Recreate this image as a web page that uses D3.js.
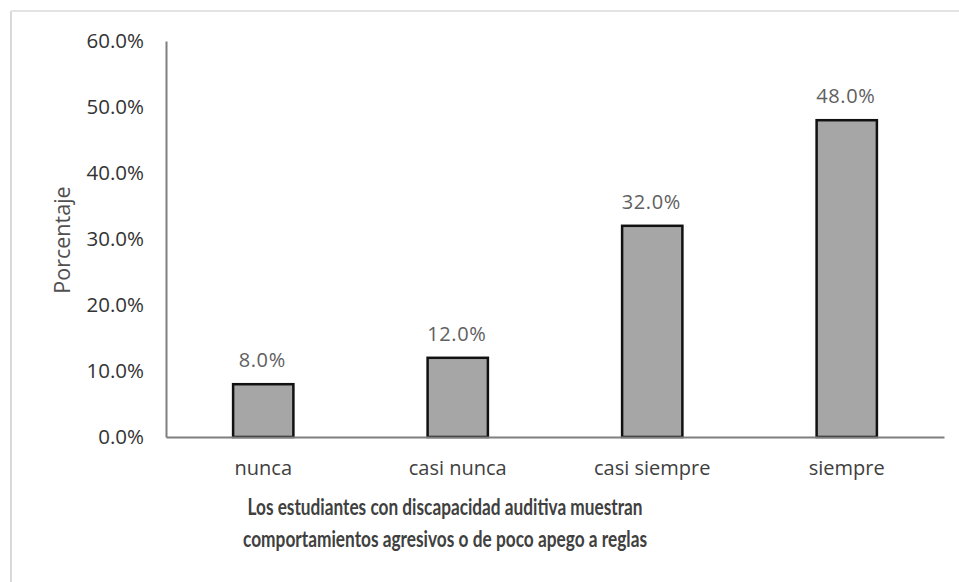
<!DOCTYPE html>
<html><head><meta charset="utf-8">
<script src="https://cdn.jsdelivr.net/npm/d3@7"></script>
<style>body{margin:0;background:#fff}svg{display:block}</style>
</head><body><svg id="c" width="959" height="582"></svg>
<script>
const categories = ["nunca", "casi nunca", "casi siempre", "siempre"];
const values = [8.0, 12.0, 32.0, 48.0];
const yTicks = [0, 10, 20, 30, 40, 50, 60];
const yLabel = "Porcentaje";
const xTitle = ["Los estudiantes con discapacidad auditiva muestran", "comportamientos agresivos o de poco apego a reglas"];

const svg = d3.select("#c");
const m = {left:166, right:944, top:41, bottom:437};
const font = "'Open Sans', sans-serif";

// frame
svg.append("line").attr("x1",11).attr("x2",11).attr("y1",11).attr("y2",582).attr("stroke","#d9d9d9").attr("stroke-width",2);
svg.append("line").attr("x1",11).attr("x2",959).attr("y1",11).attr("y2",11).attr("stroke","#e3e3e3").attr("stroke-width",2);

const x = d3.scaleBand().domain(categories).range([m.left, m.right]).paddingInner(0.69).paddingOuter(0.345);
const y = d3.scaleLinear().domain([0,60]).range([m.bottom, m.top]);

// y axis
const ya = svg.append("g").attr("transform",`translate(${m.left},0)`)
  .call(d3.axisLeft(y).tickValues(yTicks).tickSize(0).tickPadding(22).tickFormat(d=>d.toFixed(1)+"%"));
ya.select(".domain").attr("stroke","#7f7f7f").attr("stroke-width",2);
ya.selectAll("text").attr("font-family",font).attr("font-size",20.5).attr("fill","#333");

// bars
svg.selectAll("rect.bar").data(values).enter().append("rect")
  .attr("x",(d,i)=>x(categories[i])).attr("width",x.bandwidth())
  .attr("y",d=>y(d)).attr("height",d=>y(0)-y(d))
  .attr("fill","#a6a6a6").attr("stroke","#111").attr("stroke-width",2.5);

// x axis
const xa = svg.append("g").attr("transform",`translate(0,${m.bottom})`)
  .call(d3.axisBottom(x).tickSize(0).tickPadding(24));
xa.select(".domain").attr("stroke","#7f7f7f").attr("stroke-width",2);
xa.selectAll("text").attr("font-family",font).attr("font-size",20).attr("fill","#404040");

// data labels
svg.selectAll("text.lbl").data(values).enter().append("text")
  .attr("x",(d,i)=>x(categories[i])+x.bandwidth()/2 - 1).attr("y",d=>y(d)-17)
  .attr("text-anchor","middle").attr("font-family",font).attr("font-size",20).attr("fill","#606060").attr("letter-spacing","0.6")
  .text(d=>d.toFixed(1)+"%");

// y label
svg.append("text").attr("transform","translate(70,240) rotate(-90)").attr("text-anchor","middle")
  .attr("font-family",font).attr("font-size",21.5).attr("fill","#505050").text(yLabel);

// x title
const titleWidths = [395, 404];
svg.selectAll("text.xt").data(xTitle).enter().append("text")
  .attr("x",(d,i)=>445 - titleWidths[i]/2).attr("y",(d,i)=>515+i*32)
  .attr("textLength",(d,i)=>titleWidths[i]).attr("lengthAdjust","spacingAndGlyphs")
  .attr("font-family","Lato, sans-serif").attr("font-weight","bold").attr("font-size",22).attr("fill","#404040")
  .text(d=>d);
</script></body></html>
